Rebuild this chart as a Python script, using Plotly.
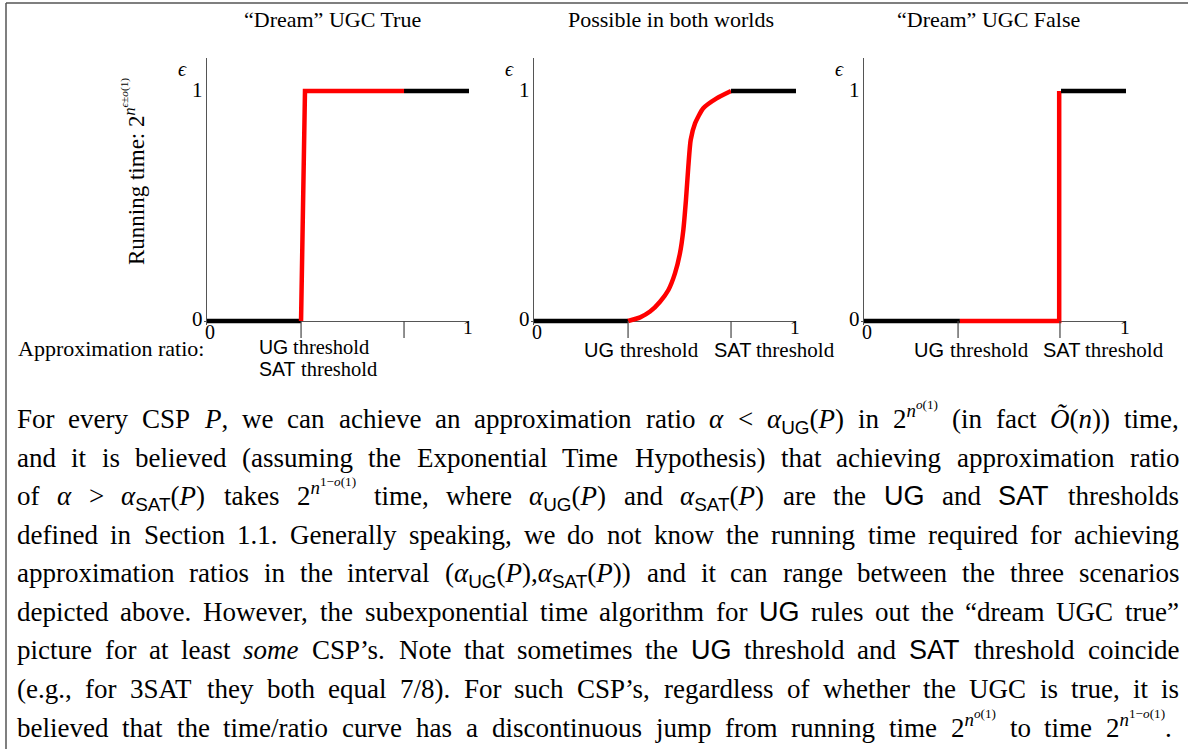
import re
import plotly.graph_objects as go

W, H = 1188, 749

# ---------------- data ----------------
panel_titles = ["“Dream” UGC True", "Possible in both worlds", "“Dream” UGC False"]
ug_threshold = [0.359, 0.359, 0.359]
sat_threshold = [0.752, 0.752, 0.748]

# x = approximation ratio, y = exponent epsilon of running time
p1_low_x, p1_low_y = [0.0, 0.359], [0.0, 0.0]
p1_red_x, p1_red_y = [0.359, 0.374, 0.752], [0.0, 1.0, 1.0]
p1_high_x, p1_high_y = [0.752, 1.0], [1.0, 1.0]

p2_low_x, p2_low_y = [0.0, 0.359], [0.0, 0.0]
p2_red_x = [0.359, 0.405, 0.443, 0.481, 0.513, 0.538, 0.557, 0.570, 0.580,
            0.589, 0.598, 0.615, 0.646, 0.697, 0.752]
p2_red_y = [0.0, 0.016, 0.041, 0.084, 0.135, 0.207, 0.294, 0.396, 0.526,
            0.671, 0.787, 0.860, 0.925, 0.968, 1.0]
p2_high_x, p2_high_y = [0.752, 1.0], [1.0, 1.0]

p3_low_x, p3_low_y = [0.0, 0.366], [0.0, 0.0]
p3_red_x, p3_red_y = [0.366, 0.745, 0.745], [0.0, 0.0, 1.0]
p3_high_x, p3_high_y = [0.752, 1.0], [1.0, 1.0]

x_tick_labels = ["0", "1"]
y_tick_labels = ["0", "1"]


def SF(t):
    return "<span style='font-family:Liberation Sans'>" + t + "</span>"


MACROS = dict(
    P="<i>P</i>", a="<i>α</i>", lt="&lt;", gt="&gt;", n="<i>n</i>", Ot="<i>Õ</i>",
    aUG="<i>α</i><sub>" + SF("UG") + "</sub>",
    aSAT="<i>α</i><sub>" + SF("SAT") + "</sub>",
    E0="2<sup><i>n</i><sup><i>o</i>(1)</sup></sup>",
    E1="2<sup><i>n</i><sup>1−<i>o</i>(1)</sup></sup>",
    UG=SF("UG"), SAT=SF("SAT"),
)

paragraph_lines = [
    "For every CSP {P}, we can achieve an approximation ratio {a} {lt} {aUG}({P}) in {E0} (in fact {Ot}({n})) time,",
    "and it is believed (assuming the Exponential Time Hypothesis) that achieving approximation ratio",
    "of {a} {gt} {aSAT}({P}) takes {E1} time, where {aUG}({P}) and {aSAT}({P}) are the {UG} and {SAT} thresholds",
    "defined in Section 1.1. Generally speaking, we do not know the running time required for achieving",
    "approximation ratios in the interval ({aUG}({P}),{aSAT}({P})) and it can range between the three scenarios",
    "depicted above. However, the subexponential time algorithm for {UG} rules out the “dream UGC true”",
    "picture for at least <i>some</i> CSP’s. Note that sometimes the {UG} threshold and {SAT} threshold coincide",
    "(e.g., for 3SAT they both equal 7/8). For such CSP’s, regardless of whether the UGC is true, it is",
    "believed that the time/ratio curve has a discontinuous jump from running time {E0} to time {E1}.",
]

# ---------------- text metrics (Times-compatible) ----------------
ROMAN = dict(zip("abcdefghijklmnopqrstuvwxyz",
                 [444, 500, 444, 500, 444, 333, 500, 500, 278, 278, 500, 278, 778,
                  500, 500, 500, 500, 333, 389, 278, 500, 500, 722, 500, 500, 444]))
ROMAN.update(zip("ABCDEFGHIJKLMNOPQRSTUVWXYZ",
                 [722, 667, 667, 722, 611, 556, 722, 722, 333, 389, 722, 611, 889,
                  722, 722, 556, 722, 667, 556, 611, 722, 722, 944, 722, 722, 611]))
ROMAN.update({c: 500 for c in "0123456789"})
ROMAN.update({" ": 250, ",": 250, ".": 250, "(": 333, ")": 333, ":": 278, ";": 278,
              "/": 278, "-": 333, "<": 564, ">": 564, "“": 444, "”": 444, "’": 333,
              "−": 564, "±": 549, "α": 530, "ε": 440, "Õ": 722})
ITALIC = dict(zip("abcdefghijklmnopqrstuvwxyz",
                  [500, 500, 444, 500, 444, 278, 500, 500, 278, 278, 444, 278, 722,
                   500, 500, 500, 500, 389, 389, 278, 500, 444, 667, 444, 444, 389]))
ITALIC.update({"P": 611, "O": 722, "Õ": 722})
SANS = {"U": 722, "G": 778, "S": 667, "A": 667, "T": 611}


def text_width(html, size):
    total = 0.0
    scale = [1.0]
    ital = 0
    sans = 0
    for part in re.split(r"(<[^>]+>)", html):
        if not part:
            continue
        if part.startswith("<"):
            if part in ("<sup>", "<sub>"):
                scale.append(scale[-1] * 0.7)
            elif part in ("</sup>", "</sub>"):
                scale.pop()
            elif part == "<i>":
                ital += 1
            elif part == "</i>":
                ital -= 1
            elif part.startswith("<span"):
                sans += 1
            elif part == "</span>":
                sans -= 1
            continue
        part = part.replace("&lt;", "<").replace("&gt;", ">")
        for ch in part:
            if sans:
                w = SANS.get(ch, 556)
            elif ital:
                w = ITALIC.get(ch, ROMAN.get(ch, 500))
            else:
                w = ROMAN.get(ch, 500)
            total += w / 1000.0 * scale[-1]
    return total * size


def px(x):
    return x / W


def py(y):
    return 1 - y / H


# ---------------- figure ----------------
fig = go.Figure()

panel_left = [207, 534, 864]
panel_w = 262
y0_px, y1_px = 321, 91
x_range = [-0.012, 1.0]
y_range = [-0.016, 1.143]
unit_y = y0_px - y1_px

curves = [
    [(p1_low_x, p1_low_y, "black", "linear"), (p1_red_x, p1_red_y, "#ff0000", "linear"),
     (p1_high_x, p1_high_y, "black", "linear")],
    [(p2_low_x, p2_low_y, "black", "linear"), (p2_red_x, p2_red_y, "#ff0000", "spline"),
     (p2_high_x, p2_high_y, "black", "linear")],
    [(p3_low_x, p3_low_y, "black", "linear"), (p3_red_x, p3_red_y, "#ff0000", "linear"),
     (p3_high_x, p3_high_y, "black", "linear")],
]

annotations = []
shapes = []
AX = "#555555"


def threshold_label(name, center_px, y_px, size):
    """Sans-serif name + serif 'threshold', centred at center_px."""
    w_name = text_width(SF(name), size - 1)
    w_sp = (0.25 if name == "UG" else 0.17) * size
    w_thr = text_width("threshold", size)
    left = center_px - (w_name + w_sp + w_thr) / 2
    annotations.append(dict(text=name, x=px(left), y=py(y_px), xref="paper", yref="paper",
                            xanchor="left", yanchor="middle",
                            font=dict(size=size - 1, family="Liberation Sans")))
    annotations.append(dict(text="threshold", x=px(left + w_name + w_sp), y=py(y_px),
                            xref="paper", yref="paper", xanchor="left", yanchor="middle",
                            font=dict(size=size, family="Liberation Serif")))


for k in range(3):
    sx = "" if k == 0 else str(k + 1)
    xl = panel_left[k]
    dom_x = [px(xl + x_range[0] * panel_w), px(xl + x_range[1] * panel_w)]
    dom_y = [py(y0_px - y_range[0] * unit_y), py(y0_px - y_range[1] * unit_y)]
    fig.update_layout(**{
        "xaxis" + sx: dict(domain=dom_x, range=x_range, showgrid=False, showline=False,
                           zeroline=True, zerolinecolor=AX, zerolinewidth=1.3,
                           showticklabels=False, ticks="", fixedrange=True,
                           anchor="y" + sx),
        "yaxis" + sx: dict(domain=dom_y, range=y_range, showgrid=False, showline=False,
                           zeroline=True, zerolinecolor=AX, zerolinewidth=1.3,
                           showticklabels=False, ticks="", fixedrange=True,
                           anchor="x" + sx),
    })
    for xs, ys, col, shp in curves[k]:
        fig.add_trace(go.Scatter(x=xs, y=ys, mode="lines",
                                 line=dict(color=col, width=4.5, shape=shp, smoothing=0.6),
                                 xaxis="x" + sx, yaxis="y" + sx, showlegend=False,
                                 hoverinfo="skip"))
    # threshold tick marks
    for t in (ug_threshold[k], sat_threshold[k]):
        shapes.append(dict(type="line", xref="x" + sx, yref="paper", x0=t, x1=t,
                           y0=py(321), y1=py(338), line=dict(color="#444444", width=1.2)))
    # title
    centers = [332, 671, 988]
    annotations.append(dict(text=panel_titles[k], x=px(centers[k]), y=py(20),
                            xref="paper", yref="paper", xanchor="center", yanchor="middle",
                            font=dict(size=22)))
    # axis numbers
    annotations.append(dict(text=x_tick_labels[0], x=0, xshift=3, y=py(332), xref="x" + sx,
                            yref="paper", xanchor="center", yanchor="middle", font=dict(size=20)))
    annotations.append(dict(text=x_tick_labels[1], x=1, xshift=-1, y=py(327), xref="x" + sx,
                            yref="paper", xanchor="center", yanchor="middle",
                            font=dict(size=19.5)))
    annotations.append(dict(text=y_tick_labels[0], x=0, xshift=-3, y=0, yshift=2, xref="x" + sx,
                            yref="y" + sx, xanchor="right", yanchor="middle", font=dict(size=21)))
    annotations.append(dict(text=y_tick_labels[1], x=0, xshift=-3, y=1, yshift=1, xref="x" + sx,
                            yref="y" + sx, xanchor="right", yanchor="middle", font=dict(size=21)))
    annotations.append(dict(text="<i>ϵ</i>", x=0, xshift=-24, y=py(69), xref="x" + sx,
                            yref="paper", xanchor="center", yanchor="middle", font=dict(size=20)))
    # threshold labels
    ug_px = xl + ug_threshold[k] * panel_w
    sat_px = xl + sat_threshold[k] * panel_w
    if k == 0:
        threshold_label("UG", ug_px + 12, 347, 20.5)
        threshold_label("SAT", ug_px + 16, 369.5, 20.5)
    else:
        threshold_label("UG", ug_px + 12, 349.5, 21)
        threshold_label("SAT", sat_px + 42, 349.5, 21)

annotations.append(dict(text="Approximation ratio:", x=px(17), y=py(348), xref="paper",
                        yref="paper", xanchor="left", yanchor="middle", font=dict(size=22)))
annotations.append(dict(text="Running time: 2<sup><i>n</i><sup><i>ϵ</i>±<i>o</i>(1)</sup></sup>",
                        x=px(134), y=py(172), xref="paper", yref="paper", textangle=-90,
                        xanchor="center", yanchor="middle", font=dict(size=23)))

# ---------------- paragraph (justified, word by word) ----------------
FS = 27
LEFT = 17
rights = [1179] * 8 + [1172]
baselines = [428.3 + 38.55 * i for i in range(9)]
for li, line in enumerate(paragraph_lines):
    words = [w.format(**MACROS) for w in line.split(" ")]
    widths = [text_width(w, FS) for w in words]
    gap = (rights[li] - LEFT - sum(widths)) / (len(words) - 1)
    xcur = LEFT
    for w, wd in zip(words, widths):
        desc = 0.216 * FS + (0.145 * FS if "<sub>" in w else 0)
        annotations.append(dict(text=w, x=px(xcur), y=py(baselines[li] + desc),
                                xref="paper", yref="paper", xanchor="left", yanchor="bottom",
                                borderpad=0, borderwidth=0, font=dict(size=FS)))
        xcur += wd + gap

# frame lines
shapes.append(dict(type="line", xref="paper", yref="paper", x0=px(6), x1=1, y0=py(3), y1=py(3),
                   line=dict(color="#555555", width=1.5)))
shapes.append(dict(type="line", xref="paper", yref="paper", x0=px(6), x1=px(6), y0=py(3), y1=0,
                   line=dict(color="#555555", width=1.5)))

for a in annotations:
    a.setdefault("showarrow", False)
    a.setdefault("borderpad", 0)

fig.update_layout(width=W, height=H, margin=dict(l=0, r=0, t=0, b=0),
                  paper_bgcolor="white", plot_bgcolor="white",
                  font=dict(family="Liberation Serif", color="black", size=20),
                  annotations=annotations, shapes=shapes, showlegend=False)

fig.write_html("out.html", config={"displayModeBar": False},
               post_script="document.body.style.margin='0px';document.body.style.overflow='hidden';")
